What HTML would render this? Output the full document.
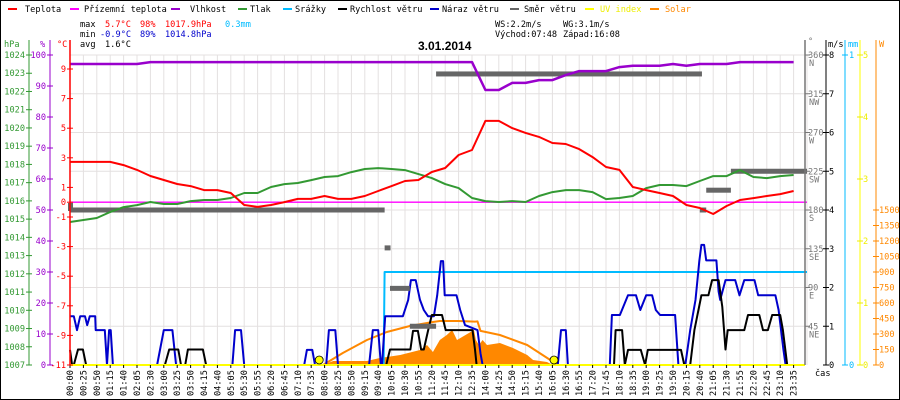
<!DOCTYPE html>
<html><head><meta charset="utf-8"><style>
html,body{margin:0;padding:0;background:#fff;}
svg{display:block;font-family:"DejaVu Sans Mono","Liberation Mono",monospace;}
</style></head><body>
<svg id="chart" width="900" height="400" viewBox="0 0 900 400" xmlns="http://www.w3.org/2000/svg">
<rect x="0.5" y="0.5" width="899" height="399" fill="#fff" stroke="#000"/>
<g font-size="8.6">
 <g><rect x="8" y="8" width="9" height="2" fill="#f00"/><text x="25" y="12">Teplota</text></g>
 <g><rect x="70" y="8" width="9" height="2" fill="#f0f"/><text x="84" y="12">Přízemní teplota</text></g>
 <g><rect x="171" y="8" width="9" height="2" fill="#90c"/><text x="190" y="12">Vlhkost</text></g>
 <g><rect x="238" y="8" width="9" height="2" fill="#393"/><text x="250" y="12">Tlak</text></g>
 <g><rect x="283" y="8" width="9" height="2" fill="#0bf"/><text x="295" y="12">Srážky</text></g>
 <g><rect x="338" y="8" width="9" height="2" fill="#000"/><text x="350" y="12">Rychlost větru</text></g>
 <g><rect x="430" y="8" width="9" height="2" fill="#00c"/><text x="442" y="12">Náraz větru</text></g>
 <g><rect x="510" y="8" width="9" height="2" fill="#666"/><text x="524" y="12">Směr větru</text></g>
 <g><rect x="585" y="8" width="9" height="2" fill="#ff0"/><text x="600" y="12" fill="#ee0">UV index</text></g>
 <g><rect x="650" y="8" width="9" height="2" fill="#f80"/><text x="665" y="12" fill="#f80">Solar</text></g>
</g>
<g font-size="8.6">
 <text x="80" y="27">max</text><text x="105" y="27" fill="#f00">5.7°C</text><text x="140" y="27" fill="#f00">98%</text><text x="165" y="27" fill="#f00">1017.9hPa</text><text x="225" y="27" fill="#0bf">0.3mm</text>
 <text x="80" y="37">min</text><text x="100" y="37" fill="#00c">-0.9°C</text><text x="140" y="37" fill="#00c">89%</text><text x="165" y="37" fill="#00c">1014.8hPa</text>
 <text x="80" y="47">avg</text><text x="105" y="47">1.6°C</text>
 <text x="495" y="27">WS:2.2m/s</text><text x="563" y="27">WG:3.1m/s</text>
 <text x="495" y="37">Východ:07:48</text><text x="563" y="37">Západ:16:08</text>
</g>
<text x="418" y="50" font-size="12" font-weight="bold" font-family="Liberation Sans, sans-serif">3.01.2014</text>
<g id="plot"></g>
</svg>
<script>
// ---- data ----
const timeLabels=["00:00","00:25","00:50","01:15","01:40","02:05","02:30","03:00","03:25","03:50","04:15","04:40","05:05","05:30","05:55","06:20","06:45","07:10","07:35","08:00","08:25","08:50","09:15","09:40","10:05","10:30","10:55","11:20","11:45","12:10","12:35","14:00","14:25","14:50","15:15","15:40","16:05","16:30","16:55","17:20","17:45","18:10","18:35","19:00","19:25","19:50","20:15","20:40","21:05","21:30","21:55","22:20","22:45","23:10","23:35"];
const temperature=[2.72,2.72,2.72,2.72,2.51,2.18,1.77,1.5,1.23,1.09,0.82,0.82,0.62,-0.19,-0.32,-0.19,0.01,0.22,0.22,0.42,0.22,0.22,0.42,0.76,1.09,1.43,1.5,2.04,2.31,3.19,3.53,5.49,5.49,5.01,4.68,4.41,4.0,3.93,3.59,3.05,2.38,2.18,1.03,0.82,0.62,0.42,-0.19,-0.39,-0.8,-0.26,0.15,0.28,0.42,0.55,0.76];
const humidity=[97.1,97.1,97.1,97.1,97.1,97.1,97.7,97.7,97.7,97.7,97.7,97.7,97.7,97.7,97.7,97.7,97.7,97.7,97.7,97.7,97.7,97.7,97.7,97.7,97.7,97.7,97.7,97.7,97.7,97.7,97.7,88.7,88.7,91.0,91.0,91.9,91.9,93.5,94.8,94.8,94.8,96.1,96.5,96.5,96.5,97.1,96.5,97.1,97.1,97.1,97.7,97.7,97.7,97.7,97.7];
const pressure=[1014.84,1014.95,1015.06,1015.39,1015.66,1015.77,1015.94,1015.83,1015.83,1015.99,1016.05,1016.05,1016.16,1016.43,1016.43,1016.76,1016.92,1016.98,1017.14,1017.31,1017.36,1017.58,1017.75,1017.8,1017.75,1017.69,1017.47,1017.25,1016.92,1016.7,1016.16,1015.99,1015.94,1015.99,1015.94,1016.27,1016.48,1016.59,1016.59,1016.48,1016.1,1016.16,1016.27,1016.7,1016.87,1016.87,1016.81,1017.09,1017.36,1017.36,1017.69,1017.31,1017.25,1017.36,1017.42];
const groundTimes=[0,1440];
const groundTemp=[0,0];
const rainTimes=[0,590,592,1440];
const rainMm=[0,0,0.3,0.3];
const gustTimes=[0,7,13,19,28,32,37,47,48,65,69,73,76,80,165,180,196,203,308,313,324,330,442,447,457,462,483,488,500,505,563,570,580,585,587,593,626,636,641,650,658,665,673,684,690,697,701,704,726,733,742,790,809,822,975,981,990,994,1072,1076,1091,1106,1110,1121,1129,1140,1151,1158,1166,1194,1200,1213,1222,1232,1239,1243,1248,1252,1271,1275,1278,1288,1306,1314,1323,1342,1349,1381,1387,1396,1400];
const gustMs=[1.26,1.26,0.9,1.26,1.26,1.03,1.26,1.26,0.9,0.9,0,0.9,0.9,0,0,0.9,0.9,0,0,0.9,0.9,0,0,0.39,0.39,0,0,0.9,0.9,0,0,0.9,0.9,0,0,1.26,1.26,1.68,2.19,2.19,1.68,1.42,1.26,1.26,1.8,2.68,2.68,1.8,1.8,1.42,1.03,0.9,0.3,0,0,0.9,0.9,0,0,1.29,1.29,1.8,1.8,1.8,1.42,1.8,1.8,1.42,1.29,1.29,0,0,0.9,1.68,2.68,3.1,3.1,2.7,2.7,1.9,1.68,2.19,2.19,1.8,2.19,2.19,1.8,1.8,1.42,0.4,0];
const speedTimes=[0,4,7,15,24,30,182,190,207,212,220,225,253,259,595,602,640,645,654,660,665,673,680,699,706,758,774,784,1080,1083,1095,1100,1106,1130,1138,1143,1205,1211,1222,1230,1243,1256,1263,1275,1282,1288,1292,1323,1330,1351,1358,1367,1375,1390,1395,1403];
const speedMs=[0.39,0,0,0.4,0.4,0,0,0.4,0.4,0,0,0.4,0.4,0,0,0.4,0.4,0.88,0.88,0.4,0.4,0.88,1.29,1.29,0.9,0.9,0.4,0,0,0.9,0.9,0,0.39,0.39,0,0.39,0.39,0,0,0.9,1.8,1.8,2.19,2.19,1.5,0.4,0.9,0.9,1.29,1.29,0.9,0.9,1.29,1.29,0.9,0];
const dirStart=[0,592,602,639,688,1240,1252,1298];
const dirEnd=[592,603,639,688,1244,1252,1298,1440];
const dirDeg=[180,136,89,45,338,180,203,225];
const solarTimes=[477,496,559,583,621,658,671,682,695,708,718,727,768,780,799,822,843,867,891,918,929,955,966];
const solarW=[0,39,39,68,97,145,194,126,242,290,339,242,339,242,194,242,194,213,165,97,48,29,0];
const solarMaxTimes=[477,514,559,596,639,682,695,729,774,790,809,867,918,961,974];
const solarMaxW=[0,116,242,319,377,416,426,426,420,422,330,290,194,48,0];
const sunTimes=[470,968];
// ---- scales ----
const X0=70,STEP=13.4,YB=365;
const labelMin=timeLabels.map(s=>{const p=s.split(':');return +p[0]*60+ +p[1];});
function xOf(m){
  const n=labelMin.length;
  if(m>=labelMin[n-1]) return X0+STEP*((n-1)+(m-labelMin[n-1])/25);
  for(let i=0;i<n-1;i++){ if(m<=labelMin[i+1]){return X0+STEP*(i+(m-labelMin[i])/(labelMin[i+1]-labelMin[i]));} }
}
const yT=t=>YB-(t+11)*14.8, yH=h=>YB-h*3.1, yP=p=>YB-(p-1007)*18.235, yD=d=>YB-d*310/360,
      yWs=v=>YB-v*38.75, yR=r=>YB-r*310, yS=w=>YB-w*155/1500, yUV=u=>YB-u*62;
const NS='http://www.w3.org/2000/svg';
const plot=document.getElementById('plot');
function el(tag,attrs,parent){const e=document.createElementNS(NS,tag);for(const k in attrs)e.setAttribute(k,attrs[k]);(parent||plot).appendChild(e);return e;}
function txt(x,y,s,attrs,parent){const e=el('text',Object.assign({x:x,y:y},attrs||{}),parent);e.textContent=s;return e;}
// grid
const grid=el('g',{});


for(let i=0;i<=55;i++){const x=X0+STEP*i;el('line',{x1:x,y1:55,x2:x,y2:YB,stroke:'#e4e0e0','stroke-width':1},grid);}
for(let k=0;k<=8;k++){const y=YB-38.75*k;el('line',{x1:X0,y1:y,x2:805,y2:y,stroke:'#e4e0e0','stroke-width':1},grid);}
function poly(ts,vs,ys,color,w,name){
  const pts=ts.map((t,i)=>xOf(t).toFixed(1)+','+ys(vs[i]).toFixed(1)).join(' ');
  const p=el('polyline',{points:pts,fill:'none',stroke:color,'stroke-width':w,'stroke-linejoin':'round'});
  
  
  return p;
}
// solar area
{
  let d='M'+xOf(solarTimes[0]).toFixed(1)+','+YB;
  solarTimes.forEach((t,i)=>{d+=' L'+xOf(t).toFixed(1)+','+yS(solarW[i]).toFixed(1);});
  d+=' L'+xOf(solarTimes[solarTimes.length-1]).toFixed(1)+','+YB+' Z';
  const a=el('path',{d:d,fill:'#f80'});
  
  
}
poly(solarMaxTimes,solarMaxW,yS,'#f80',2,'solar-max-line');
poly(rainTimes,rainMm,yR,'#0bf',2,'rain-line');
poly(gustTimes,gustMs,yWs,'#00c',2,'gust-line');
poly(speedTimes,speedMs,yWs,'#000',2,'wind-speed-line');
dirDeg.forEach((d,i)=>{
  const r=el('rect',{x:xOf(dirStart[i]),y:yD(d)-2.5,width:Math.max(4,xOf(dirEnd[i])-xOf(dirStart[i])),height:5,fill:'#666'});
  
  
});
{const r=el('rect',{x:68,y:203,width:5,height:8,fill:'#666'});

}
const cats=labelMin;
poly(groundTimes,groundTemp,yT,'#f0f',1.3,'ground-temp-line');
poly(cats,pressure,yP,'#393',2,'pressure-line');
poly(cats,humidity,yH,'#90c',2.5,'humidity-line');
poly(cats,temperature,yT,'#f00',2,'temperature-line');
// UV baseline
{const u=el('line',{x1:X0,y1:YB,x2:805,y2:YB,stroke:'#ff0','stroke-width':2});

}
sunTimes.forEach(t=>{
  const c=el('circle',{cx:xOf(t),cy:360,r:4,fill:'#ff0',stroke:'#000','stroke-width':0.8});
  
  
});
// x axis labels
const xa=el('g',{'font-size':8.6});


timeLabels.forEach((s,i)=>{
  const x=X0+STEP*i;
  el('line',{x1:x,y1:YB,x2:x,y2:YB+3,stroke:'#000'},xa);
  const t=txt(0,0,s,{transform:'translate('+(x+3)+',396) rotate(-90)'},xa);
  
  
});
txt(815,376,'čas',{'font-size':8.6},xa);
// left axes
const la=el('g',{'font-size':8.6});


txt(4,47,'hPa',{fill:'#393'},la);txt(40,47,'%',{fill:'#90c'},la);txt(57,47,'°C',{fill:'#f00'},la);
el('line',{x1:29,y1:40,x2:29,y2:YB,stroke:'#393'},la);
el('line',{x1:50,y1:40,x2:50,y2:YB,stroke:'#90c'},la);
el('line',{x1:70,y1:40,x2:70,y2:YB,stroke:'#f00','stroke-width':1.5},la);
for(let p=1007;p<=1024;p++){const y=yP(p);el('line',{x1:26,y1:y,x2:32,y2:y,stroke:'#393'},la);txt(25,y+3,String(p),{fill:'#393','text-anchor':'end'},la);}
for(let h=0;h<=100;h+=10){const y=yH(h);el('line',{x1:47,y1:y,x2:53,y2:y,stroke:'#90c'},la);txt(46,y+3,String(h),{fill:'#90c','text-anchor':'end'},la);}
[9,7,5,3,1,0,-1,-3,-5,-7,-9,-11].forEach(t=>{const y=yT(t);el('line',{x1:67,y1:y,x2:73,y2:y,stroke:'#f00'},la);txt(66,y+3,String(t),{fill:'#f00','text-anchor':'end'},la);});
// right axes
const ra=el('g',{'font-size':8.6});


el('line',{x1:805,y1:40,x2:805,y2:YB,stroke:'#777','stroke-width':1.5},ra);
el('line',{x1:826,y1:40,x2:826,y2:YB,stroke:'#000'},ra);
el('line',{x1:845,y1:40,x2:845,y2:YB,stroke:'#0bf'},ra);
el('line',{x1:860,y1:40,x2:860,y2:YB,stroke:'#ff0'},ra);
el('line',{x1:876,y1:40,x2:876,y2:YB,stroke:'#f80'},ra);
txt(808,44,'°',{fill:'#777'},ra);txt(828,47,'m/s',{},ra);txt(848,47,'mm',{fill:'#0bf'},ra);txt(879,47,'W',{fill:'#f80'},ra);
const dirNames=['','NE','E','SE','S','SW','W','NW','N'];
for(let k=1;k<=8;k++){const y=yD(45*k);el('line',{x1:805,y1:y,x2:810,y2:y,stroke:'#777'},ra);txt(808,y+3,String(45*k),{fill:'#777'},ra);txt(809,y+11,dirNames[k],{fill:'#777'},ra);}
for(let v=0;v<=8;v++){const y=yWs(v);el('line',{x1:823,y1:y,x2:829,y2:y,stroke:'#000'},ra);txt(829,y+3,String(v),{},ra);}
[0,1].forEach(v=>{const y=yR(v);el('line',{x1:842,y1:y,x2:848,y2:y,stroke:'#0bf'},ra);txt(849,y+3,String(v),{fill:'#0bf'},ra);});
for(let v=0;v<=5;v++){const y=yUV(v);el('line',{x1:857,y1:y,x2:863,y2:y,stroke:'#ee0'},ra);txt(863,y+3,String(v),{fill:'#ee0'},ra);}
for(let w=0;w<=1500;w+=150){const y=yS(w);el('line',{x1:873,y1:y,x2:879,y2:y,stroke:'#f80'},ra);txt(879,y+3,String(w),{fill:'#f80'},ra);}
</script>
</body></html>
